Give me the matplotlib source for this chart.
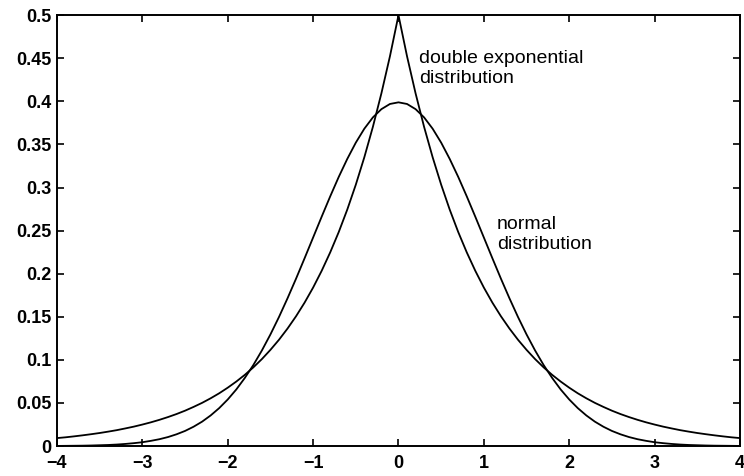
import numpy as np
import matplotlib.pyplot as plt

# curve heights at x = 0, 0.1, ..., 4 (both curves are symmetric about 0)
X_STEP = 0.1
NORMAL_HALF = [0.3989, 0.3970, 0.3910, 0.3814, 0.3683, 0.3521, 0.3332, 0.3123, 0.2897, 0.2661,
               0.2420, 0.2179, 0.1942, 0.1714, 0.1497, 0.1295, 0.1109, 0.0940, 0.0790, 0.0656,
               0.0540, 0.0440, 0.0355, 0.0283, 0.0224, 0.0175, 0.0136, 0.0104, 0.0079, 0.0060,
               0.0044, 0.0033, 0.0024, 0.0017, 0.0012, 0.0009, 0.0006, 0.0004, 0.0003, 0.0002,
               0.0001]
DOUBLE_EXP_HALF = [0.5000, 0.4524, 0.4094, 0.3704, 0.3352, 0.3033, 0.2744, 0.2483, 0.2247, 0.2033,
                   0.1839, 0.1664, 0.1506, 0.1363, 0.1233, 0.1116, 0.1009, 0.0913, 0.0826, 0.0748,
                   0.0677, 0.0612, 0.0554, 0.0501, 0.0454, 0.0410, 0.0371, 0.0336, 0.0304, 0.0275,
                   0.0249, 0.0225, 0.0204, 0.0184, 0.0167, 0.0151, 0.0137, 0.0124, 0.0112, 0.0101,
                   0.0092]

X_TICKS = [-4, -3, -2, -1, 0, 1, 2, 3, 4]
Y_TICKS = [0, 0.05, 0.1, 0.15, 0.2, 0.25, 0.3, 0.35, 0.4, 0.45, 0.5]
Y_TICK_LABELS = ["0", "0.05", "0.1", "0.15", "0.2", "0.25", "0.3", "0.35", "0.4", "0.45", "0.5"]

n = len(NORMAL_HALF)
x = np.round(np.arange(-(n - 1), n) * X_STEP, 2)
normal = NORMAL_HALF[::-1] + NORMAL_HALF[1:]
double_exp = DOUBLE_EXP_HALF[::-1] + DOUBLE_EXP_HALF[1:]

plt.rcParams["font.family"] = ["Liberation Sans", "DejaVu Sans"]

fig = plt.figure(figsize=(7.44, 4.76), dpi=100)
ax = fig.add_axes([0.0766, 0.063, 0.918, 0.905])

ax.plot(x, double_exp, color="black", lw=1.3)
ax.plot(x, normal, color="black", lw=1.3)

ax.set_xlim(-4, 4)
ax.set_ylim(0, 0.5)
ax.set_xticks(X_TICKS)
ax.set_xticklabels(["\u2212" + str(-t) if t < 0 else str(t) for t in X_TICKS])
ax.set_yticks(Y_TICKS)
ax.set_yticklabels(Y_TICK_LABELS)
ax.tick_params(direction="in", top=True, right=True, length=5, width=1.2,
               labelsize=13)
ax.tick_params(axis="x", pad=6.5)
ax.tick_params(axis="y", pad=4)
for lab in ax.get_xticklabels() + ax.get_yticklabels():
    lab.set_fontweight("bold")
for sp in ax.spines.values():
    sp.set_linewidth(1.4)

ax.text(0.24, 0.4385, "double exponential\ndistribution", fontsize=14,
        va="center", ha="left", linespacing=1.2)
ax.text(1.15, 0.2455, "normal\ndistribution", fontsize=14,
        va="center", ha="left", linespacing=1.2)

fig.savefig("out.png", dpi=100)
